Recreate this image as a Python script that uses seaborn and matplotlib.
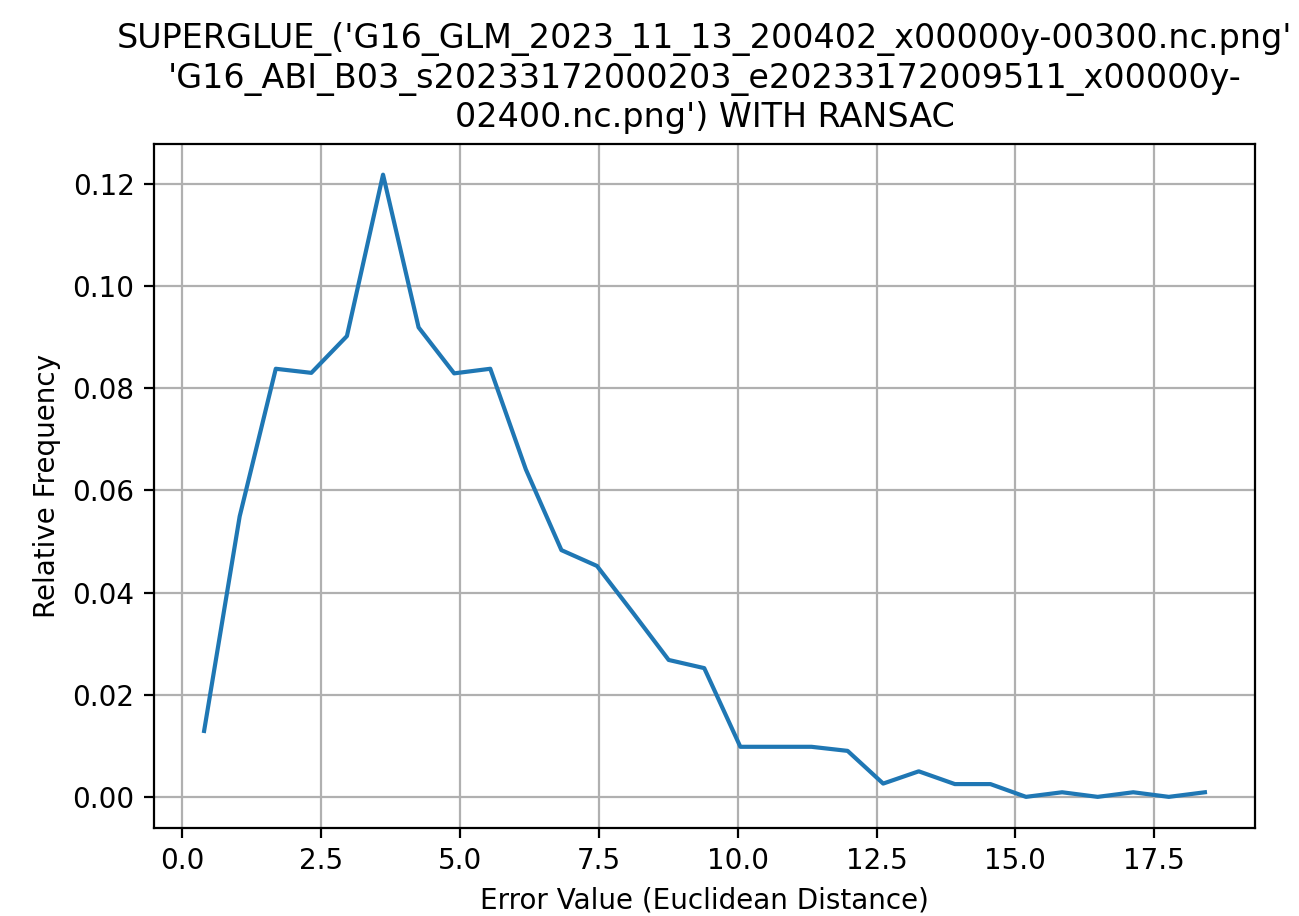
import numpy as np
import pandas as pd
import seaborn as sns
import matplotlib
matplotlib.use('Agg')
import matplotlib.pyplot as plt

# bin centres of the error histogram
error_values = [0.40, 1.04, 1.69, 2.33, 2.97, 3.62, 4.26, 4.90, 5.55, 6.19,
                6.83, 7.47, 8.12, 8.76, 9.40, 10.05, 10.69, 11.33, 11.98, 12.62,
                13.26, 13.91, 14.55, 15.19, 15.84, 16.48, 17.12, 17.76, 18.41]

rel_freq = [0.0129, 0.0549, 0.0838, 0.0830, 0.0902, 0.1218, 0.0919, 0.0829, 0.0838, 0.0641,
            0.0483, 0.0452, 0.0360, 0.0268, 0.0252, 0.0098, 0.0098, 0.0098, 0.0090, 0.0026,
            0.0050, 0.0025, 0.0025, 0.0000, 0.0009, 0.0000, 0.0009, 0.0000, 0.0009]

title = ("SUPERGLUE_('G16_GLM_2023_11_13_200402_x00000y-00300.nc.png'\n"
         "'G16_ABI_B03_s20233172000203_e20233172009511_x00000y-\n"
         "02400.nc.png') WITH RANSAC")

df = pd.DataFrame({'error': error_values, 'freq': rel_freq})

plt.figure(figsize=(6.495, 4.58), dpi=200)
ax = plt.gca()
sns.lineplot(data=df, x='error', y='freq', ax=ax, color='#1f77b4', linewidth=1.5)

ax.set_title(title, fontsize=12)
ax.set_xlabel('Error Value (Euclidean Distance)')
ax.set_ylabel('Relative Frequency')
ax.grid(True)

plt.subplots_adjust(left=0.1186, right=0.9661, bottom=0.0961, top=0.8433)
plt.savefig('out.png', dpi=200)
